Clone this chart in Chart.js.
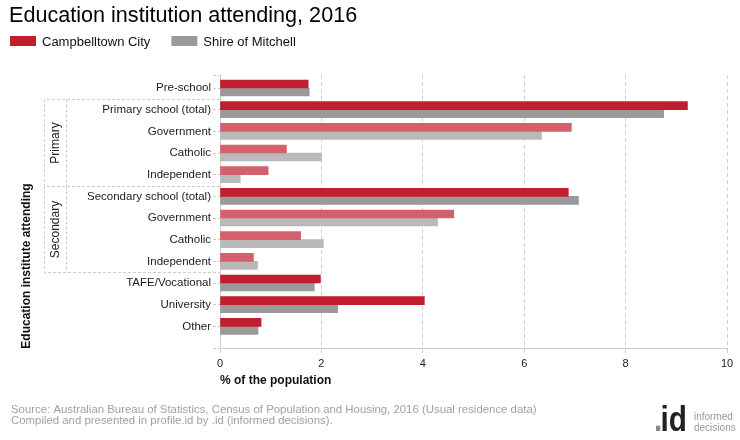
<!DOCTYPE html>
<html>
<head>
<meta charset="utf-8">
<title>Education institution attending, 2016</title>
<script src="https://cdn.jsdelivr.net/npm/chart.js@4.4.0/dist/chart.umd.min.js"></script>
<style>
  html, body { margin: 0; padding: 0; background: #fff; }
  #wrap { width: 740px; height: 440px; }
</style>
</head>
<body>
<div id="wrap"><canvas id="myChart" width="740" height="440"></canvas></div>
<script>
// data
const categories = ['Pre-school', 'Primary school (total)', 'Government', 'Catholic', 'Independent',
  'Secondary school (total)', 'Government', 'Catholic', 'Independent', 'TAFE/Vocational', 'University', 'Other'];
const campbelltown = [1.74, 9.22, 6.93, 1.31, 0.95, 6.87, 4.61, 1.59, 0.66, 1.98, 4.03, 0.81];
const mitchell = [1.76, 8.75, 6.34, 2.00, 0.40, 7.07, 4.29, 2.04, 0.74, 1.86, 2.32, 0.75];
const xTicks = [0, 2, 4, 6, 8, 10];
const subRows = [2, 3, 4, 6, 7, 8];
const groups = [
  { name: 'Primary', from: 1, to: 4 },
  { name: 'Secondary', from: 5, to: 8 }
];

const FONT = '"Liberation Sans", Arial, sans-serif';
Chart.defaults.font.family = FONT;

const RED = '#c01f2e', RED_LIGHT = '#d4606b';
const GREY = '#9a9a9a', GREY_LIGHT = '#b9b9b9';

const extras = {
  id: 'extras',
  afterDraw(chart) {
    const ctx = chart.ctx;
    const y = chart.scales.y;
    const left = chart.chartArea.left;
    ctx.save();

    // title
    ctx.fillStyle = '#000';
    ctx.font = '21.6px ' + FONT;
    ctx.textAlign = 'left';
    ctx.textBaseline = 'alphabetic';
    ctx.fillText('Education institution attending, 2016', 9, 22);

    // legend
    ctx.font = '13px ' + FONT;
    let lx = 10;
    chart.data.datasets.forEach(ds => {
      ctx.fillStyle = ds.backgroundColor[0];
      ctx.fillRect(lx, 36, 26, 10);
      ctx.fillStyle = '#111';
      ctx.fillText(ds.label, lx + 32, 46);
      lx += 32 + ctx.measureText(ds.label).width + 21;
    });

    // y axis title
    ctx.save();
    ctx.translate(30, 266);
    ctx.rotate(-Math.PI / 2);
    ctx.font = 'bold 12px ' + FONT;
    ctx.textAlign = 'center';
    ctx.fillStyle = '#111';
    ctx.fillText('Education institute attending', 0, 0);
    ctx.restore();

    // group brackets
    ctx.strokeStyle = '#cccccc';
    ctx.lineWidth = 1;
    ctx.setLineDash([3, 2]);
    groups.forEach(g => {
      const top = Math.round(y.getPixelForValue(g.from - 0.5)) + 0.5;
      const bot = Math.round(y.getPixelForValue(g.to + 0.5)) + 0.5;
      ctx.beginPath();
      ctx.moveTo(left, top); ctx.lineTo(44.5, top);
      ctx.lineTo(44.5, bot); ctx.lineTo(left, bot);
      ctx.moveTo(66.5, top); ctx.lineTo(66.5, bot);
      ctx.stroke();

      ctx.save();
      ctx.translate(59, (top + bot) / 2);
      ctx.rotate(-Math.PI / 2);
      ctx.font = '12px ' + FONT;
      ctx.textAlign = 'center';
      ctx.fillStyle = '#222';
      ctx.fillText(g.name, 0, 0);
      ctx.restore();
    });
    ctx.setLineDash([]);

    // footer
    ctx.font = '11.4px ' + FONT;
    ctx.fillStyle = '#a0a0a0';
    ctx.textAlign = 'left';
    ctx.fillText('Source: Australian Bureau of Statistics, Census of Population and Housing, 2016 (Usual residence data)', 11, 413);
    ctx.fillText('Compiled and presented in profile.id by .id (informed decisions).', 11, 424);

    // logo
    ctx.save();
    ctx.translate(654, 431);
    ctx.scale(0.85, 1);
    ctx.font = 'bold 35px ' + FONT;
    ctx.fillStyle = '#888';
    ctx.fillText('.', 0, 0);
    ctx.fillStyle = '#222';
    ctx.fillText('id', ctx.measureText('.').width - 2, 0);
    ctx.restore();
    ctx.font = '10px ' + FONT;
    ctx.fillStyle = '#999';
    ctx.fillText('informed', 694, 420);
    ctx.fillText('decisions', 694, 431);

    ctx.restore();
  }
};

new Chart(document.getElementById('myChart'), {
  type: 'bar',
  data: {
    labels: categories.map((c, i) => i),
    datasets: [
      {
        label: 'Campbelltown City',
        data: campbelltown,
        backgroundColor: categories.map((c, i) => subRows.includes(i) ? RED_LIGHT : RED)
      },
      {
        label: 'Shire of Mitchell',
        data: mitchell,
        backgroundColor: categories.map((c, i) => subRows.includes(i) ? GREY_LIGHT : GREY)
      }
    ]
  },
  options: {
    indexAxis: 'y',
    responsive: false,
    animation: false,
    layout: { padding: { top: 75, left: 10, right: 13, bottom: 44 } },
    datasets: { bar: { barThickness: 8, categoryPercentage: 1, barPercentage: 1 } },
    plugins: {
      legend: { display: false },
      title: { display: false },
      tooltip: { enabled: false }
    },
    scales: {
      x: {
        type: 'linear',
        position: 'bottom',
        min: 0,
        max: 10,
        afterBuildTicks: s => { s.ticks = xTicks.map(v => ({ value: v })); },
        afterFit: s => { s.height = 48; },
        ticks: { font: { size: 11 }, color: '#222', padding: 4 },
        grid: { color: '#d0d0d0', tickColor: '#d0d0d0', tickLength: 5, tickBorderDash: [4, 3] },
        border: { color: '#cccccc', dash: [4, 3] },
        title: {
          display: true,
          text: '% of the population',
          align: 'start',
          color: '#111',
          font: { size: 12, weight: 'bold' },
          padding: { top: 0, bottom: 8 }
        }
      },
      y: {
        type: 'linear',
        reverse: true,
        offset: false,
        min: -0.6,
        max: 12,
        afterBuildTicks: s => {
          s.ticks = [-0.6, ...categories.map((c, i) => i), 12].map(v => ({ value: v }));
        },
        afterFit: s => { s.width = 210; },
        ticks: {
          autoSkip: false,
          padding: 2,
          color: '#222',
          font: { size: 11.5 },
          callback: v => Number.isInteger(v) && categories[v] !== undefined ? categories[v] : ''
        },
        grid: { offset: false, drawOnChartArea: false, color: '#cccccc', tickLength: 7, tickBorderDash: [3, 2] },
        border: { color: '#cccccc' }
      }
    }
  },
  plugins: [extras]
});
</script>
</body>
</html>
